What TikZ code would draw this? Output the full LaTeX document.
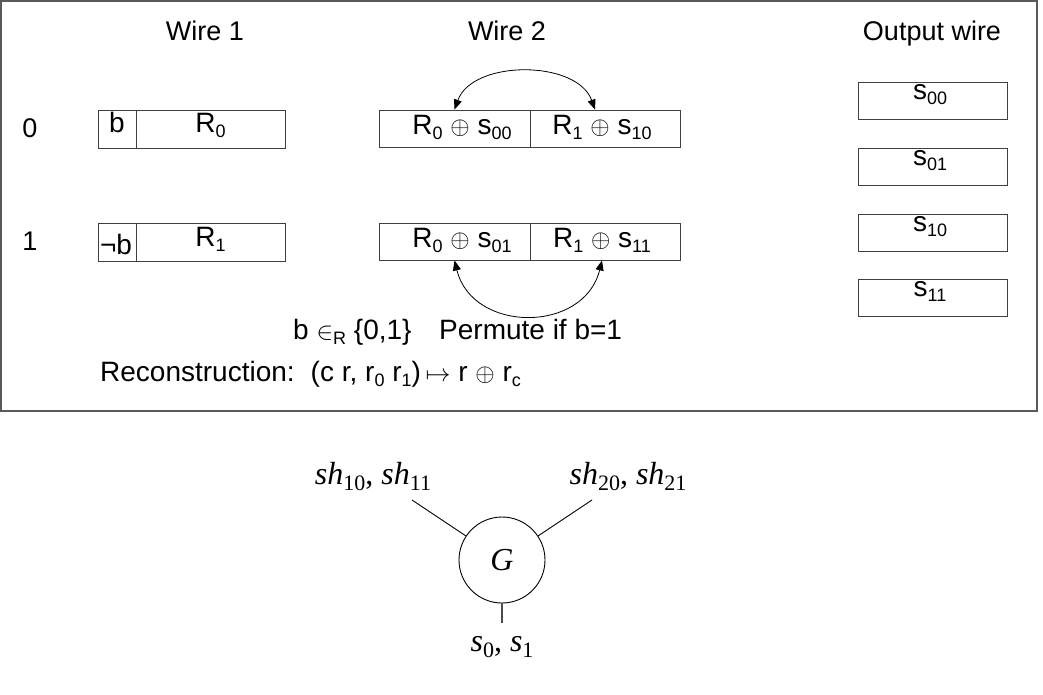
\documentclass[tikz,border=0pt]{standalone}
\usepackage{fontspec}
\setmainfont{Liberation Sans}
\newfontfamily\tms{Liberation Serif}
\usetikzlibrary{arrows.meta}
\newcommand{\subs}[1]{\raisebox{-0.2em}{\fontsize{18}{18}\selectfont #1}}
\newcommand{\tsub}[1]{\raisebox{-0.2em}{\fontsize{22}{22}\selectfont #1}}
\begin{document}
\begin{tikzpicture}[x=1pt,y=-1pt,
  frame/.style={draw=black!65, line width=1.4pt},
  cell/.style={draw=black!75, line width=0.9pt, inner sep=0pt, minimum height=38pt},
  lbl/.style={font=\fontsize{27}{32}\selectfont, inner sep=0pt},
  note/.style={font=\fontsize{28}{32}\selectfont, inner sep=0pt},
  ctxt/.style={font=\fontsize{28}{32}\selectfont, inner sep=0pt, anchor=base},
  arr/.style={{Triangle[length=10pt,width=8pt]}-{Triangle[length=10pt,width=8pt]}, line width=0.8pt},
  ml/.style={font=\tms\fontsize{32}{36}\selectfont, inner sep=0pt, anchor=base}]
\useasboundingbox (0,0) rectangle (1043,694);
\draw[frame] (1,1) rectangle (1037,411);

% headers and row labels
\node[lbl, anchor=base] (h1) at (205,40) {Wire 1};
\node[lbl, anchor=base] (h2) at (507,40) {Wire 2};
\node[lbl, anchor=base] (h3) at (932,40) {Output wire};
\node[lbl, anchor=base] (r0) at (30,137) {0};
\node[lbl, anchor=base] (r1) at (30,250) {1};

% wire 1
\node[cell, minimum width=38pt] (b0) at (117,129) {};
\node[cell, minimum width=149pt] (k0) at (210.5,129) {};
\node[cell, minimum width=38pt] (b1) at (117,242) {};
\node[cell, minimum width=149pt] (k1) at (210.5,242) {};
\node[ctxt] (tb0) at (117,132) {b};
\node[ctxt] (tk0) at (210.5,132) {R\subs{0}};
\node[ctxt] (tb1) at (116,254) {¬b};
\node[ctxt] (tk1) at (210.5,246) {R\subs{1}};

% wire 2
\node[cell, minimum width=151pt, minimum height=37pt] (w2l0) at (454.5,128.5) {};
\node[cell, minimum width=150pt, minimum height=37pt] (w2r0) at (605,128.5) {};
\node[cell, minimum width=151pt, minimum height=37pt] (w2l1) at (454.5,241.5) {};
\node[cell, minimum width=150pt, minimum height=37pt] (w2r1) at (605,241.5) {};
\node[ctxt] (t20a) at (462,134) {R\subs{0} $\oplus$ s\subs{00}};
\node[ctxt] (t20b) at (602,134) {R\subs{1} $\oplus$ s\subs{10}};
\node[ctxt] (t21a) at (462,247) {R\subs{0} $\oplus$ s\subs{01}};
\node[ctxt] (t21b) at (602,247) {R\subs{1} $\oplus$ s\subs{11}};
\draw[arr] (w2l0.north) .. controls +(18,-50) and +(-18,-50) .. ([xshift=-10pt]w2r0.north);
\draw[arr] (w2l1.south) .. controls +(18,73) and +(-18,73) .. ([xshift=-3pt]w2r1.south);

% output wire
\node[cell, minimum width=149pt, minimum height=37pt] (o1) at (932.5,100.5) {};
\node[cell, minimum width=149pt, minimum height=37pt] (o2) at (932.5,166.5) {};
\node[cell, minimum width=149pt, minimum height=37pt] (o3) at (932.5,232.5) {};
\node[cell, minimum width=149pt, minimum height=37pt] (o4) at (932.5,298) {};
\node[ctxt] (to1) at (930,99) {s\subs{00}};
\node[ctxt] (to2) at (930,165) {s\subs{01}};
\node[ctxt] (to3) at (930,231) {s\subs{10}};
\node[ctxt] (to4) at (930,296) {s\subs{11}};

% notes
\node[note, anchor=base west] (bin) at (293,339) {b $\in$\subs{R} \{0,1\}};
\node[note, anchor=base west] (perm) at (439,339) {Permute if b=1};
\node[note, anchor=base west] (rec) at (100,381) {Reconstruction:\hspace{16pt}(c r, r\subs{0} r\subs{1})\,$\mapsto$ r $\oplus$ r\subs{c}};

% gate
\node[circle, draw, line width=0.9pt, minimum size=86pt, inner sep=0pt, font=\tms\itshape\fontsize{32}{36}\selectfont] (G) at (502,560) {G};
\coordinate (c1) at (412,500);
\coordinate (c2) at (592,500);
\coordinate (c3) at (502,623);
\draw[line width=0.9pt] (c1) -- (G);
\draw[line width=0.9pt] (c2) -- (G);
\draw[black!70, line width=1.6pt] (c3) -- (G);
\node[ml] (L1) at (373,484) {{\itshape sh}\tsub{10}, {\itshape sh}\tsub{11}};
\node[ml] (L2) at (628,484) {{\itshape sh}\tsub{20}, {\itshape sh}\tsub{21}};
\node[ml] (L3) at (502,651) {{\itshape s}\tsub{0}, {\itshape s}\tsub{1}};
\end{tikzpicture}
\end{document}
